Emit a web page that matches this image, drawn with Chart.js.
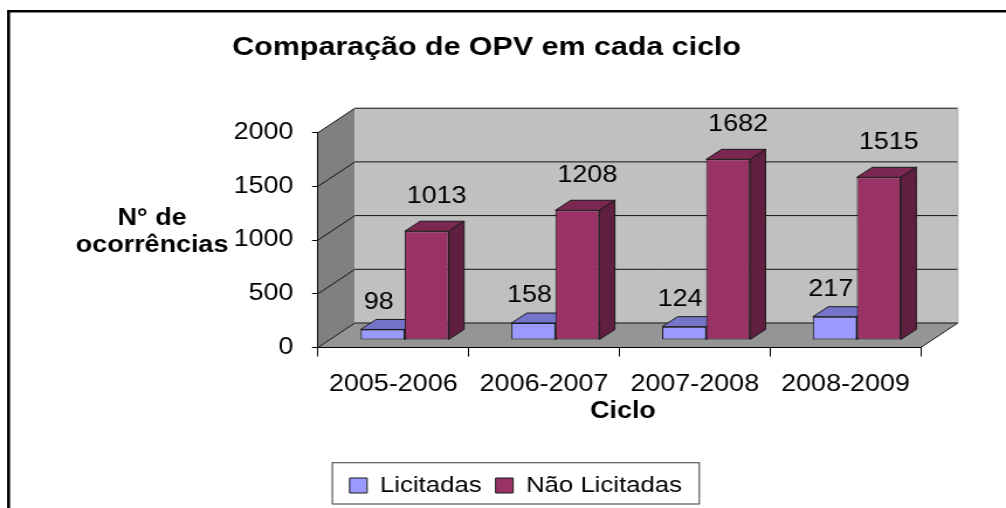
<!DOCTYPE html>
<html>
<head>
<meta charset="utf-8">
<script src="https://cdn.jsdelivr.net/npm/chart.js@4.4.1/dist/chart.umd.min.js"></script>
<style>
  html, body { margin: 0; padding: 0; background: #fff; overflow: hidden; }
  /* a figura original está esticada na horizontal */
  #wrap { width: 860px; height: 508px; transform: scaleX(1.16977); transform-origin: 0 0; }
</style>
</head>
<body>
<div id="wrap"><canvas id="opv" width="860" height="508"></canvas></div>
<script>
const ciclos = ["2005-2006", "2006-2007", "2007-2008", "2008-2009"];
const licitadas = [98, 158, 124, 217];
const naoLicitadas = [1013, 1208, 1682, 1515];
const yTicks = [0, 500, 1000, 1500, 2000];

const FONT = "'Liberation Sans', Arial, sans-serif";
const FUNDO = {x: 31.6, y: -24.5};   // profundidade das paredes
const PLANO = {x: 9.7, y: -7.5};     // plano das barras
const BARRA = {x: 13.2, y: -10};     // profundidade de cada barra
const cores = [
    {frente: '#9999FF', topo: '#7474C9', lado: '#5C5CA0', rotulo: {x: -3.4, y: -27}},
    {frente: '#993366', topo: '#7A2851', lado: '#601F40', rotulo: {x: 8.5, y: -35}}
];

function poly(ctx, pts, fill, stroke) {
    ctx.beginPath();
    pts.forEach((p, i) => i ? ctx.lineTo(p[0], p[1]) : ctx.moveTo(p[0], p[1]));
    ctx.closePath();
    if (fill) { ctx.fillStyle = fill; ctx.fill(); }
    if (stroke) { ctx.strokeStyle = stroke; ctx.lineWidth = 1; ctx.stroke(); }
}

function line(ctx, x1, y1, x2, y2, color) {
    ctx.beginPath();
    ctx.moveTo(x1, y1);
    ctx.lineTo(x2, y2);
    ctx.strokeStyle = color;
    ctx.lineWidth = 1;
    ctx.stroke();
}

const grafico3d = {
    id: 'grafico3d',
    beforeDraw(chart) {
        const {ctx, chartArea: a, scales: {y}} = chart;
        const L = a.left, R = a.right, T = a.top, B = a.bottom;
        const dx = FUNDO.x, dy = FUNDO.y;
        ctx.save();
        // moldura
        ctx.fillStyle = '#000';
        ctx.fillRect(6, 10, 2.6, 520);
        ctx.fillRect(6, 10, 900, 2.5);
        // paredes e chão
        poly(ctx, [[L, B], [L, T], [L + dx, T + dy], [L + dx, B + dy]], '#808080');
        poly(ctx, [[L + dx, T + dy], [R + dx, T + dy], [R + dx, B + dy], [L + dx, B + dy]], '#C0C0C0');
        poly(ctx, [[L, B], [R, B], [R + dx, B + dy], [L + dx, B + dy]], '#959595');
        yTicks.forEach(v => {
            const py = y.getPixelForValue(v);
            line(ctx, L, py, L + dx, py + dy, '#111');
            line(ctx, L + dx, py + dy, R + dx, py + dy, '#111');
        });
        line(ctx, R + dx, T + dy, R + dx, B + dy, '#a8a8a8');
        line(ctx, R, B, R + dx, B + dy, '#111');
        ctx.restore();
    },
    beforeDatasetsDraw(chart) {
        const ctx = chart.ctx;
        const metas = chart.data.datasets.map((d, i) => chart.getDatasetMeta(i));
        ctx.save();
        ctx.translate(PLANO.x, PLANO.y);
        for (let i = 0; i < ciclos.length; i++) {
            metas.forEach((meta, d) => {
                const el = meta.data[i];
                const c = cores[d];
                const x1 = el.x - el.width / 2, x2 = el.x + el.width / 2;
                const yt = el.y, yb = el.base;
                el.draw(ctx);
                poly(ctx, [[x1, yt], [x2, yt], [x2 + BARRA.x, yt + BARRA.y], [x1 + BARRA.x, yt + BARRA.y]], c.topo, '#1a1a1a');
                poly(ctx, [[x2, yt], [x2 + BARRA.x, yt + BARRA.y], [x2 + BARRA.x, yb + BARRA.y], [x2, yb]], c.lado, '#1a1a1a');
            });
        }
        ctx.restore();
        return false;
    },
    afterDraw(chart) {
        const {ctx, legend} = chart;
        ctx.save();
        ctx.fillStyle = '#000';
        ctx.textAlign = 'center';
        ctx.textBaseline = 'middle';
        // rótulos dos valores
        ctx.font = '23px ' + FONT;
        chart.data.datasets.forEach((ds, d) => {
            chart.getDatasetMeta(d).data.forEach((el, i) => {
                ctx.fillText(String(ds.data[i]), el.x + PLANO.x + cores[d].rotulo.x, el.y + PLANO.y + cores[d].rotulo.y);
            });
        });
        // títulos
        ctx.font = 'bold 26px ' + FONT;
        ctx.fillText('Comparação de OPV em cada ciclo', 416, 48);
        ctx.font = 'bold 23px ' + FONT;
        ctx.fillText('N° de', 130, 219);
        ctx.fillText('ocorrências', 130, 246);
        ctx.fillText('Ciclo', 532.5, 412);
        // caixa da legenda
        const cx = (legend.left + legend.right) / 2;
        ctx.strokeStyle = '#5a5a5a';
        ctx.lineWidth = 1.2;
        ctx.strokeRect(cx - 156.8, 462.7, 313.7, 41.3);
        ctx.restore();
    }
};

new Chart(document.getElementById('opv').getContext('2d'), {
    type: 'bar',
    data: {
        labels: ciclos,
        datasets: [{
            label: 'Licitadas',
            data: licitadas,
            backgroundColor: cores[0].frente,
            borderColor: '#1a1a1a',
            borderWidth: 1,
            borderSkipped: false
        }, {
            label: 'Não Licitadas',
            data: naoLicitadas,
            backgroundColor: cores[1].frente,
            borderColor: '#1a1a1a',
            borderWidth: 1,
            borderSkipped: false
        }]
    },
    options: {
        responsive: false,
        animation: false,
        categoryPercentage: 0.584,
        barPercentage: 1.0,
        layout: { padding: { left: 94.6, right: 72.8, top: 132.7, bottom: 1.5 } },
        font: { family: FONT },
        color: '#000',
        scales: {
            x: {
                offset: true,
                grid: { offset: true, drawOnChartArea: false, tickLength: 9, color: '#000' },
                border: { display: true, color: '#000' },
                ticks: { font: { family: FONT, size: 23 }, color: '#000', padding: 14, maxRotation: 0, autoSkip: false },
                afterFit: s => { s.height = 115; }
            },
            y: {
                min: 0,
                max: 2000,
                afterBuildTicks: s => { s.ticks = yTicks.map(v => ({ value: v })); },
                grid: { drawOnChartArea: false, tickLength: 5, color: '#000' },
                border: { display: true, color: '#000' },
                ticks: { font: { family: FONT, size: 23 }, color: '#000', padding: 16, callback: v => String(v) },
                afterFit: s => { s.width = 177.2; }
            }
        },
        plugins: {
            title: { display: false },
            tooltip: { enabled: false },
            legend: {
                position: 'bottom',
                labels: {
                    font: { family: FONT, size: 22 },
                    color: '#000',
                    boxWidth: 15,
                    boxHeight: 15,
                    padding: 12
                }
            }
        }
    },
    plugins: [grafico3d]
});
</script>
</body>
</html>
